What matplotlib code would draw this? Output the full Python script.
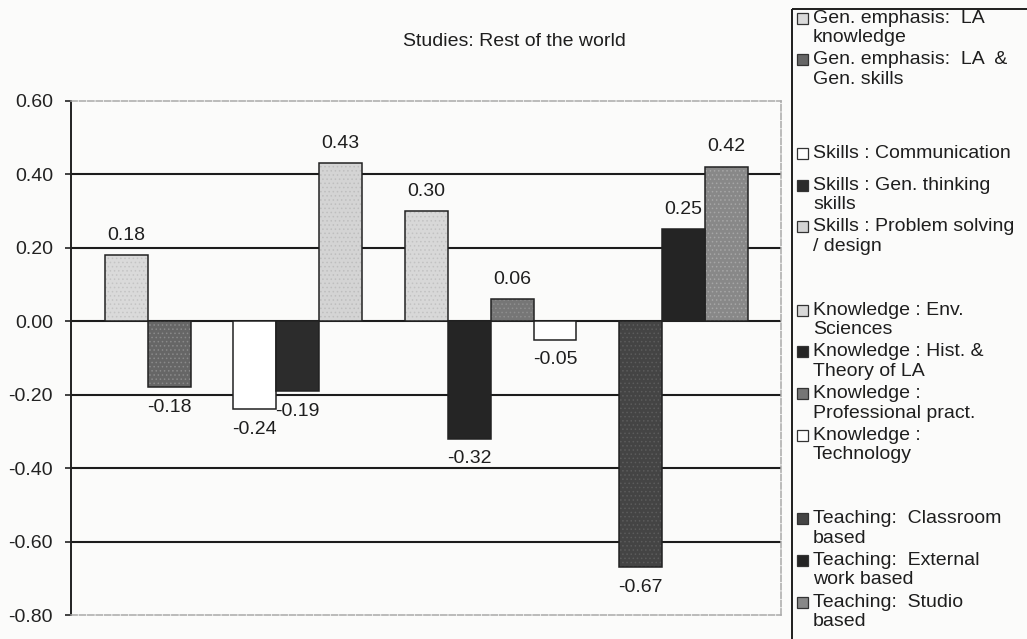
import matplotlib
matplotlib.use('Agg')
import matplotlib.pyplot as plt
from matplotlib.patches import Rectangle

# ---------------- data ----------------
title = "Studies: Rest of the world"
series_labels = [
    "Gen. emphasis:  LA\nknowledge",
    "Gen. emphasis:  LA  &\nGen. skills",
    "Skills : Communication",
    "Skills : Gen. thinking\nskills",
    "Skills : Problem solving\n/ design",
    "Knowledge : Env.\nSciences",
    "Knowledge : Hist. &\nTheory of LA",
    "Knowledge :\nProfessional pract.",
    "Knowledge :\nTechnology",
    "Teaching:  Classroom\nbased",
    "Teaching:  External\nwork based",
    "Teaching:  Studio\nbased",
]
values = [0.18, -0.18, -0.24, -0.19, 0.43, 0.30, -0.32, 0.06, -0.05, -0.67, 0.25, 0.42]
group_sizes = [2, 3, 4, 3]
bar_colors = ['#dadada', '#666666', '#ffffff', '#2c2c2c', '#d4d4d4', '#d8d8d8',
              '#252525', '#767676', '#ffffff', '#444444', '#242424', '#888888']
texture_colors = ['#c4c4c4', '#8a8a8a', None, None, '#bebebe', '#c2c2c2',
                  None, '#8e8e8e', None, '#5c5c5c', None, '#a6a6a6']
y_ticks = [0.60, 0.40, 0.20, 0.00, -0.20, -0.40, -0.60, -0.80]

# ---------------- layout ----------------
plt.rcParams['font.family'] = ['Liberation Sans', 'DejaVu Sans']
plt.rcParams['hatch.linewidth'] = 0.6
W, H = 1027, 639
fig = plt.figure(figsize=(W / 100, H / 100), dpi=100)
fig.patch.set_facecolor('#fbfbfa')


def px(x0, y0, x1, y1):
    return [x0 / W, 1 - y1 / H, (x1 - x0) / W, (y1 - y0) / H]


# slot positions: series in groups, one empty slot between groups
slots = []
s = 0
for g in group_sizes:
    for _ in range(g):
        slots.append(s)
        s += 1
    s += 1

ax = fig.add_axes(px(71, 101, 781, 615))
ax.set_facecolor('none')
ax.set_ylim(y_ticks[-1], y_ticks[0])
ax.set_xlim(-1.29, 15.27)

for t in y_ticks[1:-1]:
    ax.axhline(t, color='#1c1c1c', lw=1.5, zorder=1)

ax.set_yticks(y_ticks)
ax.set_yticklabels([f'{t:.2f}' for t in y_ticks], fontsize=14, color='#222222')
ax.tick_params(axis='y', length=4, width=1.2, pad=9, color='#222222')
ax.set_xticks([])
ax.spines['left'].set_color('#222222')
ax.spines['left'].set_linewidth(1.4)
for sp in ['top', 'bottom', 'right']:
    ax.spines[sp].set_color('#a9a9a9')
    ax.spines[sp].set_linewidth(1.1)
    ax.spines[sp].set_linestyle((0, (4, 1.5)))

# fill + texture layer
bars = ax.bar(slots, values, width=1.0, color=bar_colors, linewidth=0, zorder=3)
for b, tc in zip(bars, texture_colors):
    if tc is not None:
        b.set_hatch('....')
        b.set_edgecolor(tc)
# outline layer
ax.bar(slots, values, width=1.0, color='none', edgecolor='#222222',
       linewidth=1.1, zorder=3.5)

for x, v in zip(slots, values):
    ax.annotate(f'{v:.2f}', (x, v), xytext=(0, 14.5 if v > 0 else -14.5),
                textcoords='offset points', ha='center', va='center',
                fontsize=14, color='#1e1e1e', zorder=4)

fig.text(514 / W, 1 - 42 / H, title, ha='center', va='center',
         fontsize=14, color='#1e1e1e')

# ---------------- legend ----------------
lax = fig.add_axes([0, 0, 1, 1])
lax.set_xlim(0, W)
lax.set_ylim(H, 0)
lax.axis('off')
lax.add_patch(Rectangle((792, 9), 400, 700, facecolor='none',
                        edgecolor='#1e1e1e', lw=1.4))
slot_h = 41.7
line_h = 19.5
for k, lab, c in zip(slots, series_labels, bar_colors):
    lines = lab.split('\n')
    center = 28 + k * slot_h
    for i, ln in enumerate(lines):
        y = center + (i - (len(lines) - 1) / 2) * line_h
        lax.text(813, y, ln, ha='left', va='center', fontsize=14, color='#1e1e1e')
        if i == 0:
            lax.add_patch(Rectangle((797, y - 5.5), 11, 11, facecolor=c,
                                    edgecolor='#333333', lw=0.9))

fig.savefig('out.png', dpi=100, facecolor=fig.get_facecolor())
